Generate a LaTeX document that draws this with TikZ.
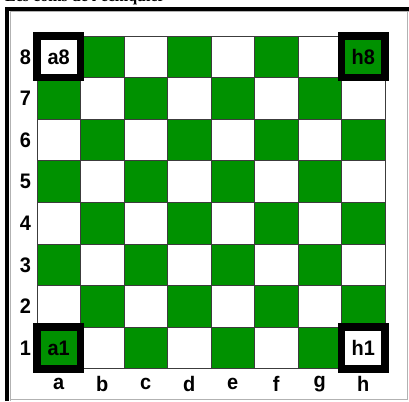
\documentclass[tikz,border=0pt]{standalone}
\usepackage{fontspec}
\setmainfont{Liberation Sans}
\newfontfamily\titlefont{Liberation Serif}
\newfontfamily\labfont[FakeStretch=0.95]{Liberation Sans}
\definecolor{boardgreen}{RGB}{0,145,0}
\definecolor{gridline}{RGB}{60,60,60}
\begin{document}
\begin{tikzpicture}[x=1pt,y=-1pt,
  cell/.style={draw=gridline, line width=0.9pt, minimum width=43.5pt, minimum height=41.6pt, inner sep=0pt, outer sep=0pt, anchor=north west},
  darksq/.style={cell, fill=boardgreen},
  lightsq/.style={cell, fill=white},
  lab/.style={font=\labfont\fontsize{21}{21}\selectfont\bfseries, inner sep=0pt},
  cornerframe/.style={draw=black, line width=7.5pt},
  panelrule/.style={draw=black, line width=4pt},
  panellight/.style={draw=black!30, line width=1pt},
]
\clip (0,0) rectangle (409,401);
\useasboundingbox (0,0) rectangle (409,401);
\fill[white] (0,0) rectangle (409,401);
% title (cut off at the top)
\node[anchor=base west, font=\titlefont\fontsize{16}{16}\selectfont\bfseries, inner sep=0pt] (title) at (5,1.5) {Les coins de l'échiquier};
% panel frame
\draw[panellight] (10,401) -- (10,11.5) -- (409,11.5);
\draw[panellight] (11,399) -- (407,399) -- (407,11);
\draw[panelrule] (7,401) -- (7,9) -- (409,9);
% board
\foreach \c [count=\i] in {a,b,c,d,e,f,g,h} {
  \foreach \r in {1,...,8} {
    \pgfmathtruncatemacro\sqpar{mod(\i+\r,2)}
    \pgfmathsetmacro\px{37+(\i-1)*43.5}
    \pgfmathsetmacro\py{36+(8-\r)*41.6}
    \ifnum\sqpar=0
      \node[darksq] (\c\r) at (\px,\py) {};
    \else
      \node[lightsq] (\c\r) at (\px,\py) {};
    \fi
  }
  \pgfmathsetmacro\cx{37+(\i-1)*43.5+21.75}
  \node[lab] (col\c) at (\cx,384) {\c};
}
\foreach \r in {1,...,8} {
  \pgfmathsetmacro\cy{36+(8-\r)*41.6+20.8}
  \node[lab] (row\r) at (25.5,\cy) {\r};
}
% corner squares
\foreach \s in {a8,h8,a1,h1} {
  \draw[cornerframe] (\s.north west) rectangle (\s.south east);
  \node[lab] (lbl\s) at (\s.center) {\s};
}
\end{tikzpicture}
\end{document}
